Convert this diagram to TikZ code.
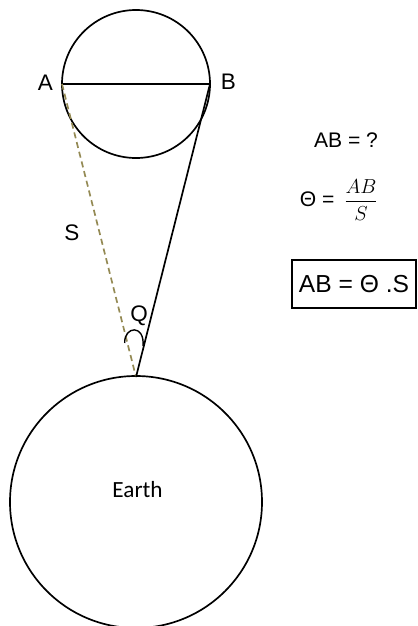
\documentclass[tikz,border=0pt]{standalone}
\usepackage{fontspec}
\setmainfont{Liberation Sans}
\newfontfamily\calibrifont{Carlito}
\usepackage{amsmath}
\usepackage{tikz}
\usetikzlibrary{positioning,calc}
\definecolor{tkOlive}{RGB}{148,138,84}

\begin{document}
\begin{tikzpicture}[x=0.025cm, y=-0.025cm, line width=1.2pt,
  lbl/.style={inner sep=0pt, font=\fontsize{16}{19}\selectfont},
  sightline/.style={tkOlive, dash pattern=on 4.3pt off 2.8pt}]
\useasboundingbox (0,0) rectangle (417,626);
% moon and earth
\draw (136,84) circle[radius=74];
\draw (136,502) circle[radius=126];
\coordinate (A) at (62,84);
\coordinate (B) at (210,84);
\coordinate (obs) at (136,377);
\node[inner sep=0pt, font=\calibrifont\fontsize{16.5}{19}\selectfont] (earth) at (137.5,490) {Earth};
% lines of sight
\draw (A) -- (B);
\draw[sightline] (A) -- (obs);
\draw (B) -- (obs);
\draw[line width=1pt] (124.7,343) .. controls (124,326) and (145,324) .. (143,346);
\node[lbl] (lblA) at (45.5,83) {A};
\node[lbl] (lblB) at (228.5,82) {B};
\node[lbl] (lblS) at (72,233) {S};
\node[lbl] (lblQ) at (139,316) {Q};
% formulas
\node[inner sep=0pt, font=\fontsize{15}{17}\selectfont] (ask) at (346,140) {AB = ?};
\node[inner sep=0pt, font=\fontsize{15}{17}\selectfont] (theta) at (339,200)
  {Θ = \,{\fontsize{13.5}{16}\selectfont$\dfrac{AB}{S}$}};
\node[draw, line width=1pt, minimum width=3.1cm, minimum height=1.2cm,
  font=\fontsize{17.5}{20}\selectfont] (result) at (354,284) {AB = Θ .S};
\end{tikzpicture}
\end{document}
